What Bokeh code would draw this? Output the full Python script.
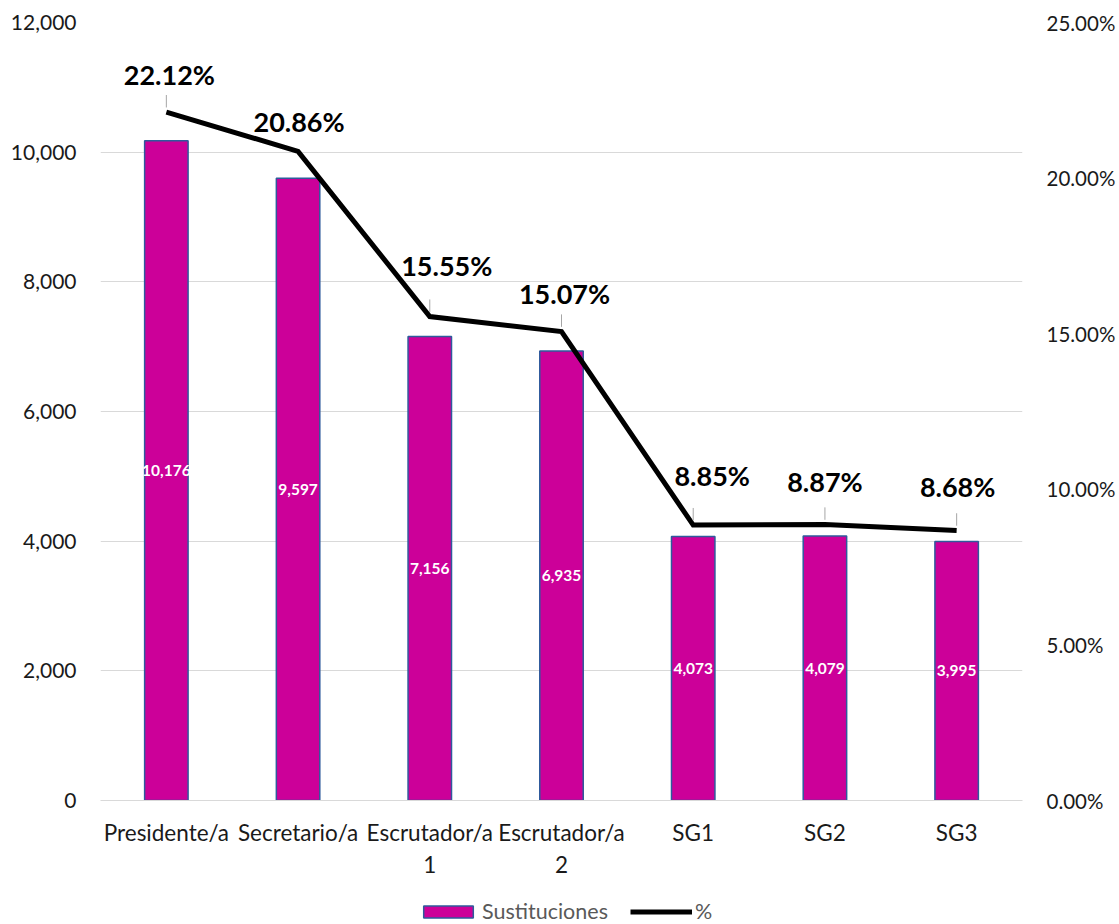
from bokeh.plotting import figure
from bokeh.layouts import column
from bokeh.models import (Range1d, LinearAxis, NumeralTickFormatter, PrintfTickFormatter,
                          SingleIntervalTicker, Legend, LegendItem, ColumnDataSource)
from bokeh.core.properties import value
from bokeh.embed import file_html
from bokeh.resources import INLINE

categories = ["Presidente/a", "Secretario/a", "Escrutador/a\n1", "Escrutador/a\n2", "SG1", "SG2", "SG3"]
sustituciones = [10176, 9597, 7156, 6935, 4073, 4079, 3995]
porcentaje = [22.12, 20.86, 15.55, 15.07, 8.85, 8.87, 8.68]
bar_labels = ["10,176", "9,597", "7,156", "6,935", "4,073", "4,079", "3,995"]
pct_labels = ["22.12%", "20.86%", "15.55%", "15.07%", "8.85%", "8.87%", "8.68%"]

# label placement (pixels, relative to the line point)
pct_dx = [3, 1, 17, 3, 19, 0, 1]
pct_dy = [-38, -30, -51, -38, -50, -43, -44]

FONT = "Lato"
BAR_FILL = "#CC0099"
BAR_LINE = "#2E5A9C"

p = figure(x_range=categories, y_range=Range1d(0, 12000), width=1118, height=888,
           output_backend="svg", toolbar_location=None,
           min_border_left=100, min_border_right=93, min_border_top=22, min_border_bottom=88)
p.extra_y_ranges = {"pct": Range1d(0, 25)}
p.outline_line_color = None

bars = p.vbar(x=categories, top=sustituciones, width=0.33, fill_color=BAR_FILL,
              line_color=BAR_LINE, line_width=1.5)

src_b = ColumnDataSource(dict(x=categories, y=[v / 2 for v in sustituciones], t=bar_labels))
p.text(x="x", y="y", text="t", source=src_b, text_align="center", text_baseline="middle",
       text_color="white", text_font=value(FONT), text_font_style="bold", text_font_size="15.5px")

line = p.line(x=categories, y=porcentaje, y_range_name="pct", line_color="black",
              line_width=5, line_join="miter")

# leader lines
lead_cats = [c for c, l in zip(categories, pct_labels) if l != "20.86%"]
lead_vals = [v for v, l in zip(porcentaje, pct_labels) if l != "20.86%"]
p.segment(x0=lead_cats, y0=[v + 0.15 for v in lead_vals], x1=lead_cats,
          y1=[v + 0.55 for v in lead_vals], y_range_name="pct", line_color="#A6A6A6", line_width=1)

src_p = ColumnDataSource(dict(x=categories, y=porcentaje, t=pct_labels, dx=pct_dx, dy=pct_dy))
p.text(x="x", y="y", text="t", source=src_p, x_offset="dx", y_offset="dy", y_range_name="pct",
       text_align="center", text_baseline="middle", text_color="black",
       text_font=value(FONT), text_font_style="bold", text_font_size="27px")

# axes
p.yaxis.ticker = SingleIntervalTicker(interval=2000)
p.yaxis.formatter = NumeralTickFormatter(format="0,0")
right = LinearAxis(y_range_name="pct", ticker=SingleIntervalTicker(interval=5),
                   formatter=PrintfTickFormatter(format="%.2f%%"))
p.add_layout(right, "right")

for ax in [p.yaxis[0], right]:
    ax.axis_line_color = None
for ax in [p.yaxis[0], right, p.xaxis[0]]:
    ax.major_tick_line_color = None
    ax.minor_tick_line_color = None
    ax.major_label_text_font = FONT
    ax.major_label_text_color = "#1a1a1a"
p.yaxis[0].major_label_text_font_size = "21px"
right.major_label_text_font_size = "20.5px"
p.xaxis[0].major_label_text_font_size = "22.5px"
p.yaxis[0].major_label_standoff = 18
right.major_label_standoff = 18
p.xaxis[0].axis_line_color = "#D9D9D9"
p.xaxis[0].major_label_standoff = 12

p.xgrid.grid_line_color = None
p.ygrid.grid_line_color = "#D9D9D9"
p.ygrid.grid_line_width = 1

# legend strip below the chart (hidden proxy glyphs supply the legend swatches)
lf = figure(width=1118, height=36, x_range=Range1d(0, 1), y_range=Range1d(0, 1),
            output_backend="svg", toolbar_location=None, min_border=0,
            x_axis_location=None, y_axis_location=None)
lf.outline_line_color = None
lf.xgrid.grid_line_color = None
lf.ygrid.grid_line_color = None
r1 = lf.vbar(x=[0.5], bottom=[-3], top=[-2], width=0.1, fill_color=BAR_FILL,
             line_color=BAR_LINE, line_width=1.5, visible=False)
r2 = lf.line(x=[0.2, 0.8], y=[-3, -3], line_color="black", line_width=5, visible=False)
legend = Legend(items=[LegendItem(label="Sustituciones", renderers=[r1]),
                       LegendItem(label="%", renderers=[r2])],
                orientation="horizontal", location=(317, 0),
                label_text_font=FONT, label_text_font_size="21.5px", label_text_color="#595959",
                glyph_width=62, glyph_height=15, spacing=22, label_standoff=3,
                inactive_fill_alpha=0,
                border_line_color=None, background_fill_alpha=0, padding=0, margin=0)
lf.add_layout(legend, "center")

open("out.html", "w").write(file_html(column(p, lf, spacing=0), INLINE))
